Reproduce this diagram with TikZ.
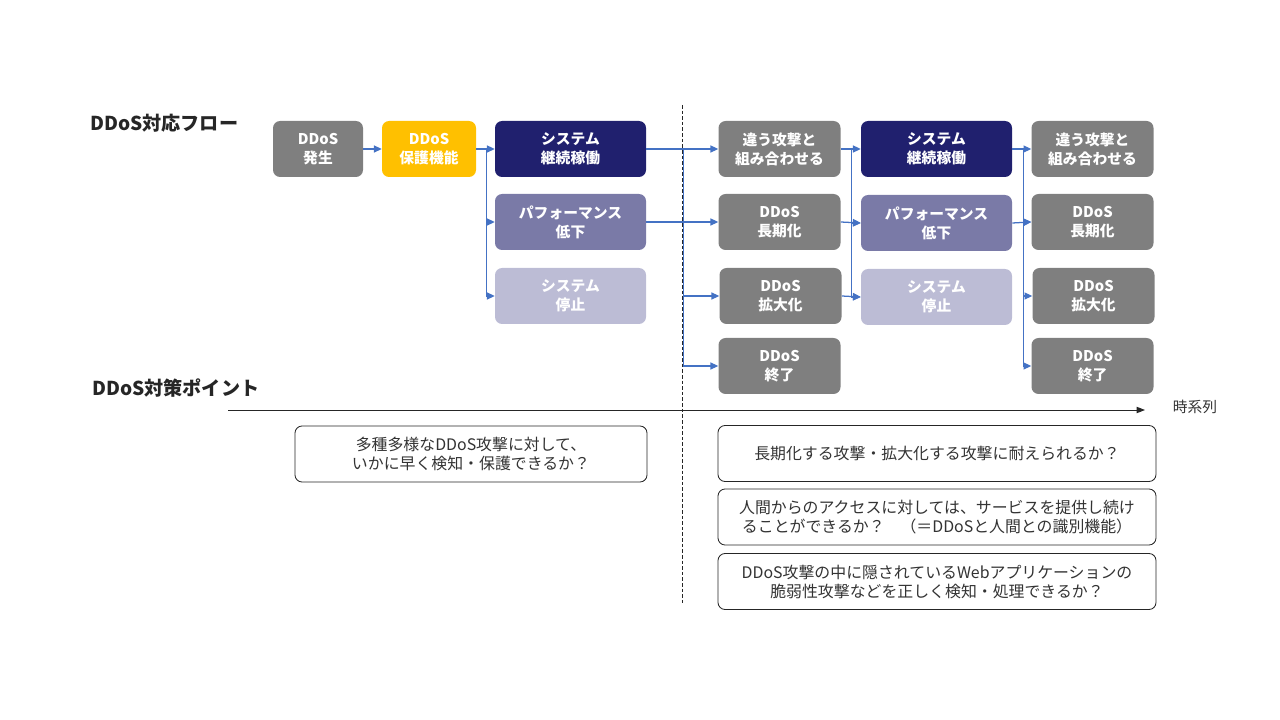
\documentclass[tikz,border=0pt]{standalone}
\usepackage{fontspec}
\setmainfont{Noto Sans CJK JP}
\usetikzlibrary{arrows.meta}
\definecolor{ddgray}{HTML}{7F7F7F}
\definecolor{ddyellow}{HTML}{FFC000}
\definecolor{ddnavy}{HTML}{20206E}
\definecolor{ddmid}{HTML}{7A7AA7}
\definecolor{ddlight}{HTML}{BCBCD5}
\definecolor{ddlink}{HTML}{4472C4}
\definecolor{ddtext}{HTML}{333333}
\def\px{0.025cm}
\begin{document}
\begin{tikzpicture}[x=\px, y=-\px,
        flowbox/.style={rounded corners=5pt, text=white, align=center, inner sep=0pt,
          font=\bfseries\fontsize{10.5}{13.5}\selectfont, minimum height=56*\px},
        notebox/.style={draw=black!85, line width=0.6pt, rounded corners=5pt, fill=white,
          text=ddtext, align=center, inner sep=0pt, minimum height=56*\px,
          font=\fontsize{11.3}{13.5}\selectfont},
        ttl/.style={font=\bfseries\fontsize{13.6}{16}\selectfont, text=black!85, anchor=west, inner sep=0pt},
        link/.style={draw=ddlink, line width=0.9pt},
        flow/.style={link, -{Triangle[length=5.5pt, width=5pt]}}
      ]
      \useasboundingbox (0,0) rectangle (1280,720);
      % titles
      \node[ttl] (flowttl) at (90,123) {DDoS対応フロー};
      \node[ttl] (pointttl) at (92,388) {DDoS対策ポイント};
      % flow boxes
      \foreach \name/\cx/\cy/\w/\col/\lbl in {%
        A/318/149/90/ddgray/DDoS\\発生,
        B/429/149/94/ddyellow/DDoS\\保護機能,
        C/570.5/149/151/ddnavy/システム\\継続稼働,
        D/570.5/222/151/ddmid/パフォーマンス\\低下,
        E/570.5/296/151/ddlight/システム\\停止,
        F/779.5/149/122/ddgray/違う攻撃と\\組み合わせる,
        G/779.5/222/122/ddgray/DDoS\\長期化,
        H/780.5/296/122/ddgray/DDoS\\拡大化,
        I/779.5/366/122/ddgray/DDoS\\終了,
        J/936.5/149/151/ddnavy/システム\\継続稼働,
        K/936.5/223/151/ddmid/パフォーマンス\\低下,
        L/936.5/297/151/ddlight/システム\\停止,
        M/1092.5/149/122/ddgray/違う攻撃と\\組み合わせる,
        N/1092.5/222/122/ddgray/DDoS\\長期化,
        O/1093.5/296/122/ddgray/DDoS\\拡大化,
        P/1092.5/366/122/ddgray/DDoS\\終了%
      }{
        \node[flowbox, fill=\col, minimum width=\w*\px] (\name) at (\cx,\cy) {\lbl};
      }
      % connectors
      \draw[flow] (A) -- (B);
      \draw[link] (B.east) -- ++(10,0) coordinate (b1);
      \draw[flow] (b1) -- (C.west);
      \draw[flow] (b1) |- (D.west);
      \draw[flow] (b1) |- (E.west);
      \draw[link] (C.east) -- ++(37,0) coordinate (b2);
      \draw[flow] (b2) -- (F.west);
      \draw[flow] (b2) |- (H.west);
      \draw[flow] (b2) |- (I.west);
      \draw[flow] (D.east) -- (G.west);
      \draw[link] (F.east) -- ++(11,0) coordinate (b3);
      \draw[flow] (b3) -- (J.west);
      \draw[flow] (b3) |- (K.west);
      \draw[flow] (b3) |- (L.west);
      \draw[flow] (G.east) -- (K.west);
      \draw[flow] (H.east) -- (L.west);
      \draw[link] (J.east) -- ++(11,0) coordinate (b4);
      \draw[flow] (b4) -- (M.west);
      \draw[flow] (b4) |- (N.west);
      \draw[flow] (b4) |- (O.west);
      \draw[flow] (b4) |- (P.west);
      \draw[flow] (K.east) -- (N.west);
      % separator and time axis
      \draw[black!85, line width=0.6pt, dash pattern=on 2.5pt off 1.5pt] (682,105) -- (682,603);
      \node[font=\fontsize{10.5}{12}\selectfont, text=ddtext, inner sep=0pt] (timelbl) at (1195,407) {時系列};
      \coordinate (t0) at (228,410);
      \coordinate (t1) at (1145,410);
      \draw[black!85, line width=0.7pt, -{Triangle[length=6pt, width=4.5pt]}] (t0) -- (t1);
      % points
      \node[notebox, minimum width=352*\px] (Q) at (471,454) {多種多様なDDoS攻撃に対して、\\いかに早く検知・保護できるか？};
      \node[notebox, minimum width=438*\px] (R) at (937,453.5) {長期化する攻撃・拡大化する攻撃に耐えられるか？};
      \node[notebox, minimum width=438*\px] (S) at (937,517) {人間からのアクセスに対しては、サービスを提供し続け\\ることができるか？　（＝DDoSと人間との識別機能）};
      \node[notebox, minimum width=438*\px] (T) at (937,581.5) {DDoS攻撃の中に隠されているWebアプリケーションの\\脆弱性攻撃などを正しく検知・処理できるか？};
    \end{tikzpicture}
\end{document}
